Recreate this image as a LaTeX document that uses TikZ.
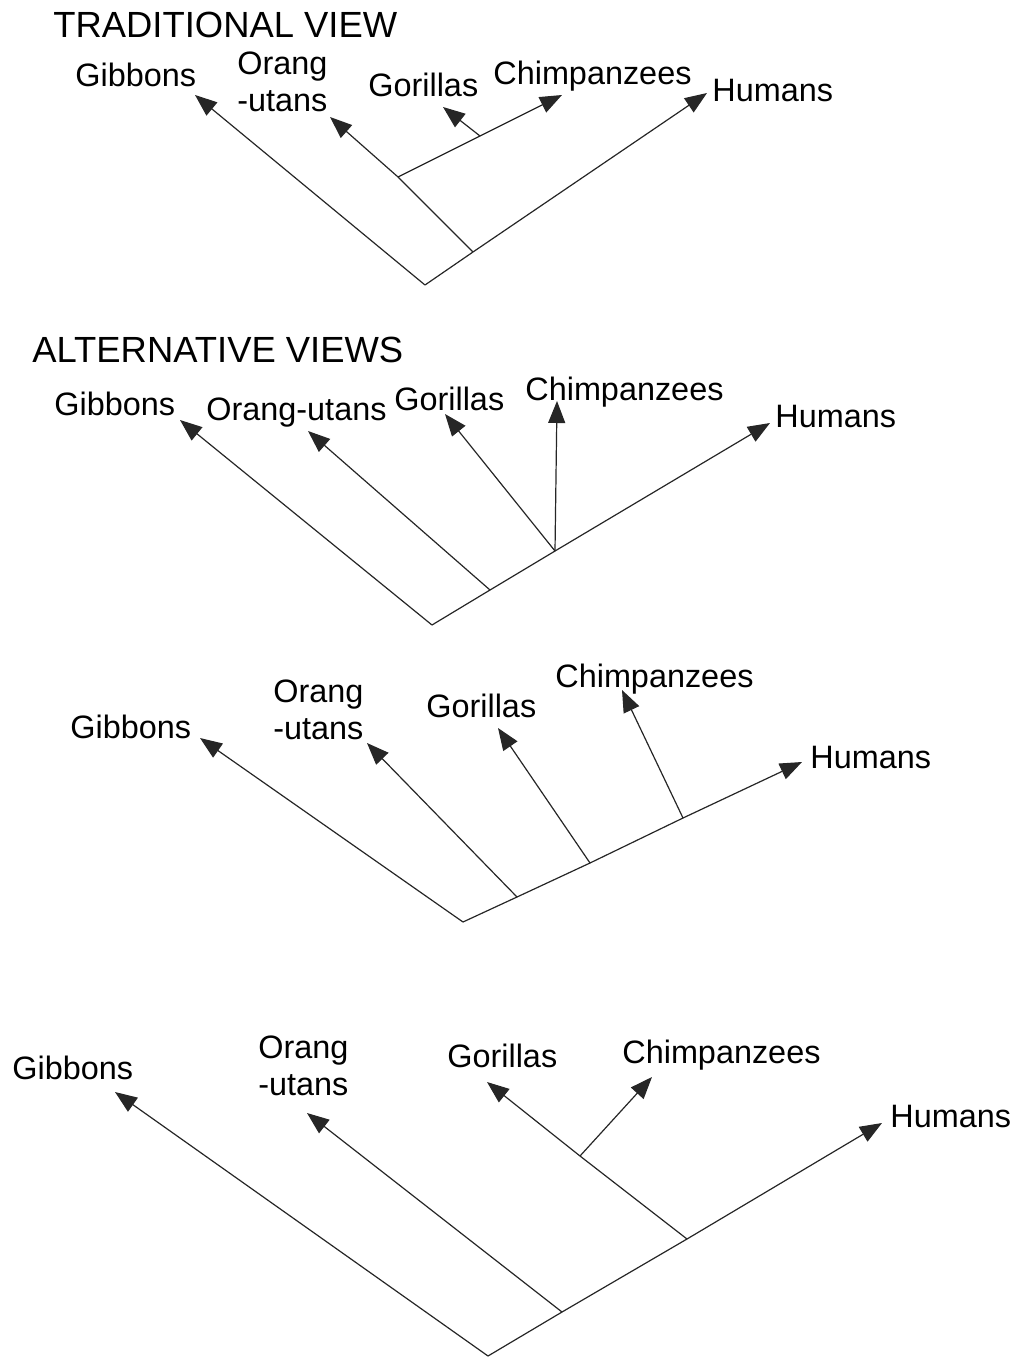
\documentclass[tikz,border=0pt]{standalone}
\usepackage{fontspec}
\setmainfont{Liberation Sans}
\usetikzlibrary{arrows.meta}
\tikzset{
  lbl/.style={anchor=base west, inner sep=0pt, font=\fontsize{16.2}{18.5}\selectfont, align=left},
  ttl/.style={anchor=base west, inner sep=0pt, font=\fontsize{18.2}{20}\selectfont},
  br/.style={line width=0.6pt, draw=black!85},
  arr/.style={br, -{Triangle[length=11pt,width=8.5pt]}}
}
\begin{document}
\begin{tikzpicture}[x=0.5pt,y=-0.5pt]
\useasboundingbox (0,0) rectangle (1016,1358);
% ---------- Panel 1: traditional view ----------
\node[ttl] (t1) at (53,38) {TRADITIONAL VIEW};
\node[lbl] (gib1) at (75,87) {Gibbons};
\node[lbl] (ora1) at (237,112) {Orang\\-utans};
\node[lbl] (gor1) at (368,97) {Gorillas};
\node[lbl] (chi1) at (493,85) {Chimpanzees};
\node[lbl] (hum1) at (712,102) {Humans};
\coordinate (r1) at (425,285);
\coordinate (j1a) at (473,252);
\coordinate (j1b) at (398,177);
\coordinate (j1c) at (480,136);
\coordinate (g1tip) at (195,95);
\coordinate (o1tip) at (330,117);
\coordinate (go1tip) at (443,107);
\coordinate (c1tip) at (562,95);
\coordinate (h1tip) at (707,93);
\draw[arr] (r1) -- (g1tip);
\draw[br] (r1) -- (j1a);
\draw[arr] (j1a) -- (h1tip);
\draw[br] (j1a) -- (j1b);
\draw[arr] (j1b) -- (o1tip);
\draw[br] (j1b) -- (j1c);
\draw[arr] (j1c) -- (c1tip);
\draw[arr] (j1c) -- (go1tip);
% ---------- Panel 2: alternative view 1 ----------
\node[ttl] (t2) at (32,362) {ALTERNATIVE VIEWS};
\node[lbl] (gib2) at (54,415) {Gibbons};
\node[lbl] (ora2) at (206,420) {Orang-utans};
\node[lbl] (gor2) at (394,410) {Gorillas};
\node[lbl] (chi2) at (525,400) {Chimpanzees};
\node[lbl] (hum2) at (775,427) {Humans};
\coordinate (r2) at (432,625);
\coordinate (j2a) at (490,590);
\coordinate (j2b) at (555,551);
\coordinate (g2tip) at (180,420);
\coordinate (o2tip) at (308,431);
\coordinate (go2tip) at (445,414);
\coordinate (c2tip) at (557,401);
\coordinate (h2tip) at (770,423);
\draw[arr] (r2) -- (g2tip);
\draw[br] (r2) -- (j2a);
\draw[arr] (j2a) -- (o2tip);
\draw[br] (j2a) -- (j2b);
\draw[arr] (j2b) -- (h2tip);
\draw[arr] (j2b) -- (go2tip);
\draw[arr] (j2b) -- (c2tip);
% ---------- Panel 3: alternative view 2 ----------
\node[lbl] (gib3) at (70,738) {Gibbons};
\node[lbl] (ora3) at (273,739) {Orang\\-utans};
\node[lbl] (gor3) at (426,717) {Gorillas};
\node[lbl] (chi3) at (555,687) {Chimpanzees};
\node[lbl] (hum3) at (810,768) {Humans};
\coordinate (r3) at (463,922);
\coordinate (j3a) at (517,897);
\coordinate (j3b) at (590,863);
\coordinate (j3c) at (683,818);
\coordinate (g3tip) at (200,738);
\coordinate (o3tip) at (367,743);
\coordinate (go3tip) at (498,728);
\coordinate (c3tip) at (622,690);
\coordinate (h3tip) at (802,762);
\draw[arr] (r3) -- (g3tip);
\draw[br] (r3) -- (j3a);
\draw[arr] (j3a) -- (o3tip);
\draw[br] (j3a) -- (j3b);
\draw[arr] (j3b) -- (go3tip);
\draw[br] (j3b) -- (j3c);
\draw[arr] (j3c) -- (c3tip);
\draw[arr] (j3c) -- (h3tip);
% ---------- Panel 4: alternative view 3 ----------
\node[lbl] (gib4) at (12,1079) {Gibbons};
\node[lbl] (ora4) at (258,1095) {Orang\\-utans};
\node[lbl] (gor4) at (447,1067) {Gorillas};
\node[lbl] (chi4) at (622,1063) {Chimpanzees};
\node[lbl] (hum4) at (890,1127) {Humans};
\coordinate (r4) at (488,1356);
\coordinate (j4a) at (562,1312);
\coordinate (j4b) at (687,1239);
\coordinate (j4c) at (580,1156);
\coordinate (g4tip) at (115,1092);
\coordinate (o4tip) at (307,1113);
\coordinate (go4tip) at (487,1082);
\coordinate (c4tip) at (652,1077);
\coordinate (h4tip) at (882,1123);
\draw[arr] (r4) -- (g4tip);
\draw[br] (r4) -- (j4a);
\draw[arr] (j4a) -- (o4tip);
\draw[br] (j4a) -- (j4b);
\draw[arr] (j4b) -- (h4tip);
\draw[br] (j4b) -- (j4c);
\draw[arr] (j4c) -- (go4tip);
\draw[arr] (j4c) -- (c4tip);
\end{tikzpicture}
\end{document}
